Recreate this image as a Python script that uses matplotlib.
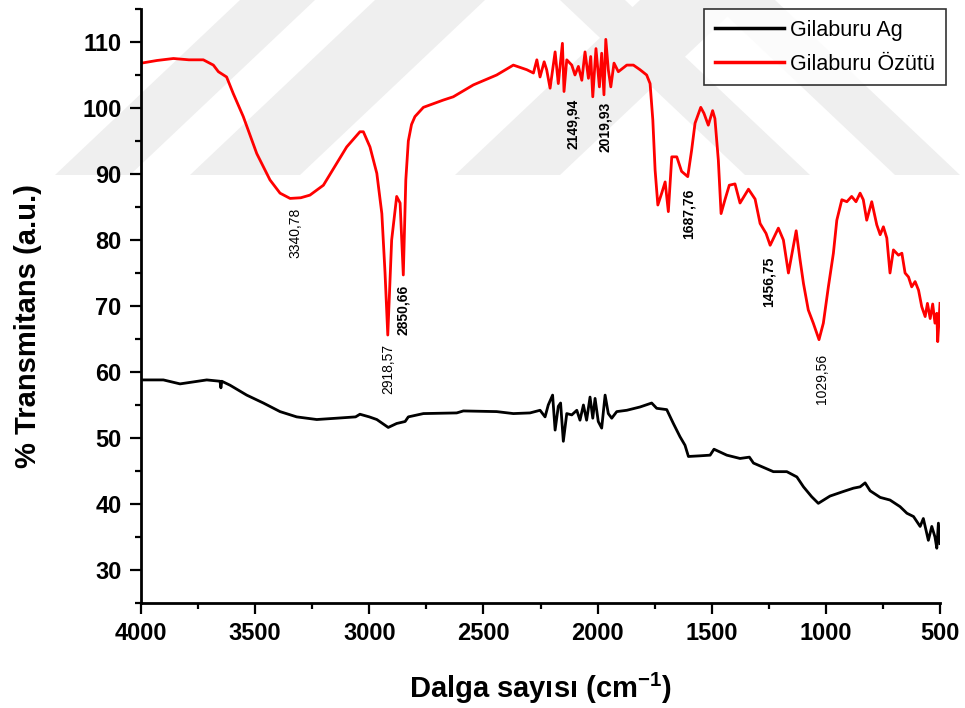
import matplotlib
matplotlib.use("Agg")
from matplotlib import pyplot as plt
from matplotlib.patches import Polygon
from matplotlib.ticker import MultipleLocator

plt.rcParams['font.family'] = ['Liberation Sans', 'DejaVu Sans']
plt.rcParams['mathtext.fontset'] = 'custom'
plt.rcParams['mathtext.rm'] = 'Liberation Sans'
plt.rcParams['mathtext.bf'] = 'Liberation Sans:bold'
plt.rcParams['mathtext.default'] = 'bf'

# Gilaburu Özütü (red)
red_x = [3998, 3930, 3858, 3790, 3727, 3683, 3661, 3625, 3596, 3552, 3493, 3435,
         3391, 3347, 3300, 3260, 3201, 3143, 3099, 3041, 3026, 2997, 2967, 2945,
         2931, 2919, 2902, 2880, 2865, 2851, 2840, 2829, 2815, 2800, 2763, 2676,
         2632, 2544, 2442, 2369, 2310, 2281, 2266, 2252, 2234, 2223, 2208, 2186,
         2172, 2154, 2147, 2135, 2113, 2099, 2084, 2069, 2055, 2040, 2030, 2021,
         2007, 1992, 1982, 1972, 1964, 1953, 1942, 1928, 1909, 1872, 1843, 1814,
         1785, 1770, 1758, 1748, 1736, 1719, 1704, 1690, 1675, 1653, 1632, 1605,
         1588, 1573, 1548, 1534, 1515, 1496, 1486, 1471, 1459, 1442, 1423, 1398,
         1376, 1339, 1310, 1288, 1262, 1244, 1208, 1186, 1164, 1130, 1113, 1098,
         1077, 1055, 1030, 1011, 989, 967, 952, 930, 908, 887, 868, 850, 836, 821,
         799, 777, 762, 748, 733, 719, 704, 682, 667, 653, 638, 624, 609, 594, 580,
         565, 555, 543, 532, 522, 514, 510, 500]
red_y = [106.8, 107.2, 107.5, 107.3, 107.3, 106.5, 105.5, 104.7, 102.2, 98.7, 93.1, 89.1,
         87.1, 86.3, 86.4, 86.8, 88.3, 91.6, 94.1, 96.4, 96.4, 94.1, 90.1, 84.0,
         75.0, 65.6, 80.0, 86.6, 85.6, 74.7, 89.1, 95.0, 97.5, 98.7, 100.1, 101.2,
         101.7, 103.5, 105.0, 106.5, 105.8, 105.3, 107.3, 104.7, 107.0, 105.8, 103.0, 108.5,
         103.7, 109.8, 102.5, 107.3, 106.5, 105.0, 106.3, 104.2, 108.5, 104.5, 107.8, 101.7,
         109.0, 103.2, 108.3, 102.0, 110.4, 105.8, 103.2, 106.8, 105.5, 106.5, 106.5, 105.8,
         105.0, 103.7, 98.2, 90.6, 85.3, 87.1, 88.8, 84.3, 92.6, 92.6, 90.4, 89.6,
         93.6, 97.7, 100.1, 99.2, 97.4, 99.6, 98.4, 92.1, 84.0, 86.1, 88.3, 88.5,
         85.6, 87.7, 86.2, 82.5, 81.0, 79.2, 81.8, 80.0, 75.0, 81.4, 77.0, 73.4,
         69.4, 67.4, 64.9, 67.4, 72.9, 78.0, 83.0, 86.1, 85.8, 86.6, 85.8, 87.1, 86.1, 83.0,
         85.8, 82.3, 80.8, 82.0, 80.3, 75.0, 78.5, 77.7, 78.0, 75.0, 74.4, 72.9, 73.7, 72.4, 69.9,
         68.4, 70.4, 68.1, 70.3, 67.4, 68.9, 64.6, 70.4]

# Gilaburu Ag (black)
black_x = [3998, 3902, 3829, 3712, 3654, 3650, 3646, 3610, 3537, 3464, 3391, 3318,
           3230, 3143, 3060, 3041, 3000, 2967, 2917, 2880, 2843, 2829, 2763, 2617, 2588,
           2442, 2369, 2296, 2252, 2230, 2216, 2197, 2186, 2172, 2162, 2150, 2135,
           2113, 2091, 2077, 2062, 2048, 2033, 2021, 2011, 1997, 1982, 1967, 1953,
           1938, 1916, 1872, 1814, 1763, 1741, 1697, 1668, 1639, 1617, 1602, 1551,
           1507, 1490, 1434, 1376, 1335, 1317, 1230, 1171, 1127, 1098, 1062, 1033,
           982, 923, 879, 850, 828, 806, 762, 719, 675, 645, 616, 587, 573, 551,
           536, 522, 514, 507, 500]
black_y = [58.8, 58.8, 58.2, 58.8, 58.6, 57.6, 58.6, 58.0, 56.5, 55.3, 54.0, 53.2,
           52.8, 53.0, 53.2, 53.6, 53.2, 52.8, 51.6, 52.2, 52.5, 53.2, 53.7, 53.8, 54.1,
           54.0, 53.7, 53.8, 54.2, 53.2, 55.0, 56.5, 51.2, 54.8, 55.3, 49.5, 53.7,
           53.5, 54.2, 52.7, 55.0, 52.7, 56.2, 53.0, 56.0, 52.5, 51.5, 56.5, 53.7,
           53.0, 54.0, 54.2, 54.7, 55.3, 54.5, 54.3, 52.2, 50.2, 48.9, 47.2, 47.3,
           47.4, 48.3, 47.4, 46.9, 47.1, 46.2, 44.9, 44.9, 44.1, 42.6, 41.1, 40.1,
           41.2, 41.9, 42.4, 42.6, 43.2, 42.0, 41.0, 40.6, 39.6, 38.6, 38.1, 36.6, 37.8, 34.5,
           36.6, 35.0, 33.3, 37.1, 34.0]

peak_labels = ["3340,78", "2918,57", "2850,66", "2149,94", "2019,93",
               "1687,76", "1456,75", "1029,56"]
peak_x = [3325, 2918, 2851, 2106, 1967, 1602, 1252, 1018]
peak_y = [81.1, 60.5, 69.4, 97.6, 97.1, 84.0, 73.6, 59.0]
peak_bold = [False, False, True, True, True, True, True, False]

W, H = 965, 708
fig = plt.figure(figsize=(W / 100, H / 100), dpi=100)

# faint watermark stripes in the background (pixel coords, top-left origin)
stripes = [
    [(55, 175), (130, 175), (315, 0), (240, 0)],
    [(190, 175), (300, 175), (485, 0), (375, 0)],
    [(455, 175), (560, 175), (745, 0), (640, 0)],
    [(560, 0), (625, 0), (810, 175), (745, 175)],
    [(710, 0), (775, 0), (960, 175), (895, 175)],
]
for pts in stripes:
    poly = Polygon([(x / W, 1 - y / H) for x, y in pts], closed=True,
                   transform=fig.transFigure, facecolor='#efefef',
                   edgecolor='none', zorder=-1)
    fig.patches.append(poly)

ax = fig.add_axes([141 / W, 1 - 603 / H, 799 / W, 594 / H])
ax.set_facecolor('none')

ax.plot(black_x, black_y, color='black', lw=2, label='Gilaburu Ag')
ax.plot(red_x, red_y, color='red', lw=2, label='Gilaburu Özütü')

for txt, x, y, b in zip(peak_labels, peak_x, peak_y, peak_bold):
    ax.text(x, y, txt, rotation=90, ha='center', va='center', fontsize=10,
            fontweight='bold' if b else 'normal')

ax.set_xlim(4000, 500)
ax.set_ylim(25, 115)
ax.xaxis.set_major_locator(MultipleLocator(500))
ax.xaxis.set_minor_locator(MultipleLocator(250))
ax.yaxis.set_minor_locator(MultipleLocator(5))
ax.set_yticks([30, 40, 50, 60, 70, 80, 90, 100, 110])

for side in ['top', 'right']:
    ax.spines[side].set_visible(False)
for side in ['left', 'bottom']:
    ax.spines[side].set_linewidth(2)

ax.tick_params(which='major', direction='out', length=8, width=1.6,
               labelsize=17, pad=6)
ax.tick_params(which='minor', direction='out', length=4, width=1.6)
for lbl in ax.get_xticklabels() + ax.get_yticklabels():
    lbl.set_fontweight('bold')

ax.set_xlabel('Dalga sayısı (cm$^{-1}$)', fontsize=21, fontweight='bold')
ax.set_ylabel('% Transmitans (a.u.)', fontsize=21, fontweight='bold')
ax.xaxis.set_label_coords(0.5, -0.143)
ax.xaxis.label.set_verticalalignment('center')
ax.yaxis.set_label_coords(-0.141, 0.466)
ax.yaxis.label.set_verticalalignment('center')

leg = ax.legend(loc='upper right', bbox_to_anchor=(1.0075, 1.0), borderaxespad=0,
                fontsize=15.5, frameon=True, fancybox=False, handlelength=3.2,
                handletextpad=0.3, labelspacing=0.6, borderpad=0.5)
leg.get_frame().set_edgecolor('black')
leg.get_frame().set_linewidth(1.2)
for line in leg.get_lines():
    line.set_linewidth(2.5)

fig.savefig('out.png', dpi=100)
